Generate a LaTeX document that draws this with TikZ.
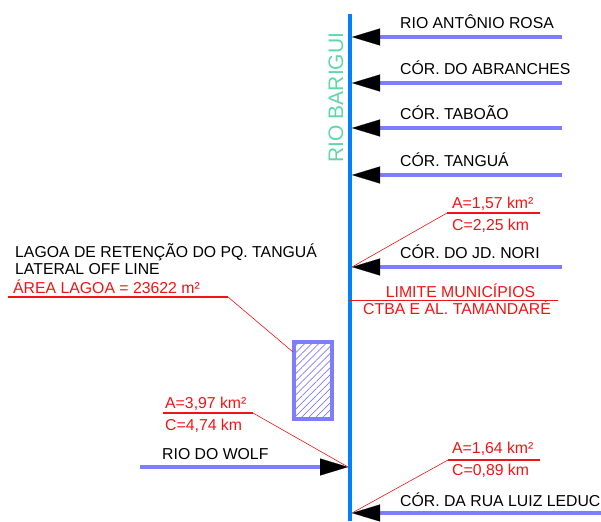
\documentclass[tikz,border=0pt]{standalone}
\usepackage{fontspec}
\setmainfont{Liberation Sans}
\usepackage{xcolor}
\usepackage{tikz}
\usetikzlibrary{arrows.meta,patterns.meta}

\definecolor{rioazul}{RGB}{0,128,255}
\definecolor{afluente}{RGB}{125,125,255}
\definecolor{vermelho}{RGB}{240,20,20}
\definecolor{verdeagua}{RGB}{95,215,170}

\begin{document}
\begin{tikzpicture}[x=1pt,y=-1pt,
	rio/.style={line width=4pt, rioazul},
	trib/.style={line width=4pt, afluente, -{Triangle[length=28pt,width=17pt,color=black,fill=black,line width=0.1pt]}},
	lbl/.style={font=\fontsize{15.8}{18}\selectfont, anchor=base west, inner sep=0pt},
	dado/.style={lbl, vermelho},
	sublinha/.style={vermelho, line width=1.1pt},
	chamada/.style={vermelho, line width=0.6pt}]
		\useasboundingbox (0,0) rectangle (601,521);
		
		% Draw the main river
		\coordinate (topo) at (350,14);
		\coordinate (fundo) at (350,521);
		\draw[rio] (topo) -- (fundo);
		\node[font=\fontsize{21}{24}\selectfont, verdeagua, rotate=90, anchor=base, inner sep=0pt] (barigui) at (343,97.5) {RIO BARIGUI};
		
		% Tributaries from the right
		\foreach \y/\nome/\txt in {37/rosa/RIO ANTÔNIO ROSA, 83/abr/CÓR. DO ABRANCHES, 128/tab/CÓR. TABOÃO, 175/tan/CÓR. TANGUÁ} {
			\coordinate (\nome) at (562,\y);
			\coordinate (j\nome) at (352,\y);
			\draw[trib] (\nome) -- (j\nome);
			\node[lbl] (t\nome) at (400,\y-8.5) {\txt};
		}
		\coordinate (nori) at (562,267);
		\coordinate (jnori) at (352,267);
		\draw[trib] (nori) -- (jnori);
		\node[lbl] (tnori) at (400,258) {CÓR. DO JD. NORI};
		
		\coordinate (leduc) at (601,513);
		\coordinate (jleduc) at (352,513);
		\draw[trib] (leduc) -- (jleduc);
		\node[lbl] (tleduc) at (400,506) {CÓR. DA RUA LUIZ LEDUC};
		
		% Tributary from the left
		\coordinate (wolf) at (140,467);
		\coordinate (jwolf) at (348,467);
		\draw[trib] (wolf) -- (jwolf);
		\node[lbl] (twolf) at (162,459) {RIO DO WOLF};
		
		% Basin data
		\node[dado] (anori) at (452,208) {A=1,57 km²};
		\node[dado] (cnori) at (452,230) {C=2,25 km};
		\coordinate (snori1) at (447,213);
		\coordinate (snori2) at (540,213);
		\draw[sublinha] (snori1) -- (snori2);
		\draw[chamada] (snori1) -- (jnori);
		
		\node[dado] (awolf) at (165,408) {A=3,97 km²};
		\node[dado] (cwolf) at (165,430) {C=4,74 km};
		\coordinate (swolf1) at (163,413);
		\coordinate (swolf2) at (253,413);
		\draw[sublinha] (swolf1) -- (swolf2);
		\draw[chamada] (swolf2) -- (jwolf);
		
		\node[dado] (aleduc) at (452,453) {A=1,64 km²};
		\node[dado] (cleduc) at (452,475) {C=0,89 km};
		\coordinate (sleduc1) at (448,460);
		\coordinate (sleduc2) at (540,460);
		\draw[sublinha] (sleduc1) -- (sleduc2);
		\draw[chamada] (sleduc1) -- (jleduc);
		
		% Municipal boundary
		\coordinate (lim1) at (350,300.5);
		\coordinate (lim2) at (558,300.5);
		\draw[sublinha] (lim1) -- (lim2);
		\node[dado, anchor=base] (lima) at (460.5,297) {LIMITE MUNICÍPIOS};
		\node[dado, anchor=base] (limb) at (457,314) {CTBA E AL. TAMANDARÉ};
		
		% Retention pond
		\node[draw=afluente, line width=4pt, pattern={Lines[angle=45,distance=5pt,line width=0.7pt]}, pattern color=afluente, minimum width=38pt, minimum height=77pt, inner sep=0pt] (lagoa) at (312.5,380) {};
		\node[lbl] (lag1) at (15,257) {LAGOA DE RETENÇÃO DO PQ. TANGUÁ};
		\node[lbl] (lag2) at (15,274) {LATERAL OFF LINE};
		\node[dado] (lag3) at (13,293) {ÁREA LAGOA = 23622 m²};
		\coordinate (slag1) at (8,297);
		\coordinate (slag2) at (228,297);
		\coordinate (plag) at (293,352);
		\draw[sublinha] (slag1) -- (slag2);
		\draw[chamada] (slag2) -- (plag);
	\end{tikzpicture}
\end{document}
